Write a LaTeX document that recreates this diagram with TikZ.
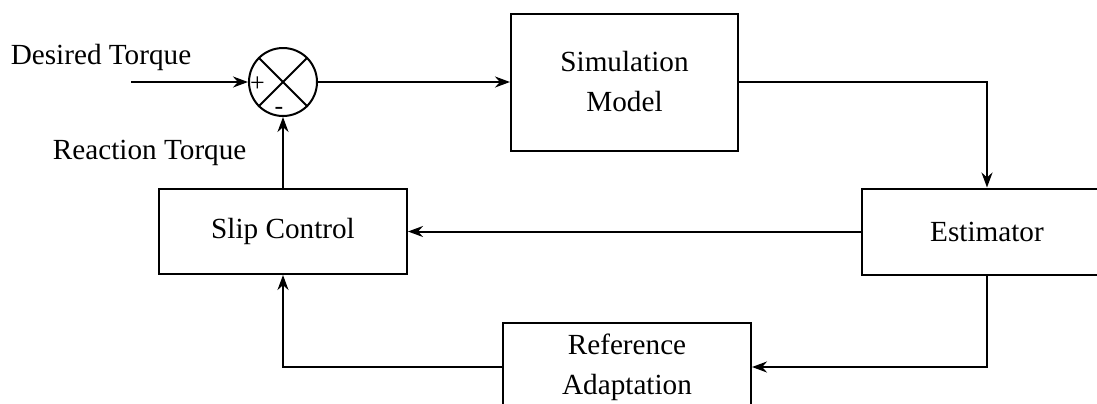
\documentclass[tikz,border=0pt]{standalone}
\usepackage{fontspec}
\setmainfont{Liberation Serif}
\usepackage{tikz}
\usetikzlibrary{arrows.meta, positioning}

\begin{document}
\begin{tikzpicture}[x=0.5pt, y=-0.5pt, >={Stealth[length=7.5pt, width=5.5pt]},
    line width=1pt,
    block/.style={draw, rectangle, align=center, inner sep=0pt,
                  font=\fontsize{14.6}{20}\selectfont},
    lbl/.style={font=\fontsize{14.6}{20}\selectfont}]

  \clip (0,0) rectangle (1097,403);

  \node[draw, circle, minimum size=34pt, inner sep=0pt] (sum) at (283,82) {};
  \draw (sum.north west) -- (sum.south east);
  \draw (sum.north east) -- (sum.south west);

  \node[block, minimum width=113.5pt, minimum height=68.5pt,
        right=96pt of sum] (sim)
        {Simulation\\Model};

  \node[block, minimum width=124pt, minimum height=42.5pt,
        below=35.5pt of sum] (slip)
        {Slip Control};

  \node[block, minimum width=125pt, minimum height=43pt,
        right=226.5pt of slip] (est)
        {Estimator};

  \node[block, minimum width=124pt, minimum height=44pt,
        below right=23.5pt and 47pt of slip.south east, anchor=north west] (ref)
        {Reference\\Adaptation};

  \coordinate[left=58.5pt of sum] (in);

  \node[lbl, above=2pt of in, xshift=-15pt] (desired) {Desired Torque};
  \node[lbl, above left=7.5pt and 14.5pt of slip.north] (reaction) {Reaction Torque};

  \node[font=\fontsize{13}{13}\selectfont, anchor=west, inner sep=0.5pt,
        yshift=-1pt] (plus) at (sum.west) {+};
  \node[font=\fontsize{13}{13}\selectfont, above=0pt of sum.south,
        inner sep=1pt, xshift=-2pt] (minus) {-};

  \draw[->] (in) -- (sum);
  \draw[->] (sum) -- (sim);
  \draw[->] (sim) -| (est);
  \draw[->] (est) -- (slip);
  \draw[->] (slip) -- (sum);
  \draw[->] (est.south) |- (ref.east);
  \draw[->] (ref.west) -| (slip.south);

\end{tikzpicture}
\end{document}
